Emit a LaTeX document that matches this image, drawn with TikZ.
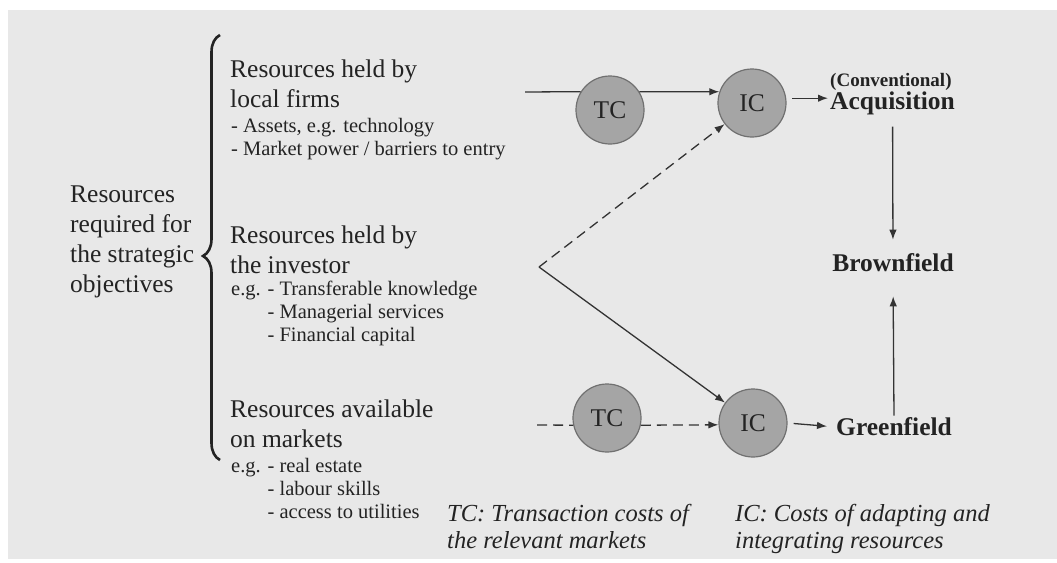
\documentclass[tikz,border=0pt]{standalone}
\usepackage{fontspec}
\setmainfont{Liberation Serif}
\usepackage{xcolor}
\usepackage{tikz}
\usetikzlibrary{arrows.meta,positioning,decorations.pathreplacing}
\definecolor{paper}{HTML}{E8E8E8}
\definecolor{ink}{HTML}{232323}
\definecolor{stroke}{HTML}{333333}
\definecolor{disc}{HTML}{A5A5A5}
\definecolor{rim}{HTML}{707070}
\newcommand{\bigsz}{\fontsize{25.5}{30}\selectfont}
\newcommand{\smallsz}{\fontsize{20.5}{23}\selectfont}
\newcommand{\ind}{\phantom{e.g. }}
\tikzset{
  base/.style={draw=stroke, line width=1.3pt},
  arr/.style={base, -{Latex[length=10pt,width=7.5pt]}},
  dsh/.style={dash pattern=on 10pt off 6pt},
  cost/.style={circle, draw=rim, line width=1.2pt, fill=disc, minimum size=68pt, inner sep=0pt, text=ink, font=\bigsz},
  head/.style={text=ink, font=\bigsz, align=left, inner sep=0pt, anchor=north west},
  list/.style={text=ink, font=\smallsz, align=left, inner sep=0pt, anchor=north west},
  mode/.style={text=ink, font=\bigsz\bfseries, inner sep=0pt},
  note/.style={text=ink, font=\fontsize{24.5}{27}\selectfont\itshape, align=left, inner sep=0pt, anchor=north west},
}

\begin{document}
\begin{tikzpicture}[x=1pt, y=-1pt]
\useasboundingbox (0,0) rectangle (1057,562);
\fill[white] (0,0) rectangle (1057,562);
\fill[paper] (8,10) rectangle (1057,559);

% resources column
\node[head] (req) at (70,186) {Resources\\required for\\the strategic\\objectives};
\draw[draw=ink, line width=2.6pt, decorate, decoration={brace, amplitude=17pt, aspect=0.48}] (220,460) -- (220,35);

\node[head] (local) at (230,60) {Resources held by\\local firms};
\node[list] (locallist) at (231,118) {- Assets, e.g. technology\\- Market power / barriers to entry};
\node[head] (inv) at (230,226) {Resources held by\\the investor};
\node[list] (invlist) at (231,281) {e.g. - Transferable knowledge\\\ind- Managerial services\\\ind- Financial capital};
\node[head] (mkt) at (230,400) {Resources available\\on markets};
\node[list] (mktlist) at (231,458) {e.g. - real estate\\\ind- labour skills\\\ind- access to utilities};

% cost circles
\node[cost] (tc1) at (610,110) {TC};
\node[cost] (ic1) at (752,103) {IC};
\node[cost] (tc2) at (607,418) {TC};
\node[cost] (ic2) at (753,423) {IC};

% entry modes
\node[mode, anchor=base west] (acq) at (830,109) {Acquisition};
\node[mode, font=\fontsize{19}{22}\selectfont\bfseries, anchor=south west] (conv) at (acq.north west) {(Conventional)};
\node[mode] (brown) at (893,263) {Brownfield};
\node[mode] (green) at (894,427) {Greenfield};

\coordinate (in1) at (525,92);
\coordinate (in2) at (537,425);
\coordinate (apex) at (539,267);

\draw[base] (in1) -- (tc1.148);
\draw[arr] (tc1.32) -- (ic1.161);
\draw[base, dsh] (in2) -- (tc2.192);
\draw[arr, dsh] (tc2.348) -- (ic2.183);
\draw[arr, dsh] (apex) -- (ic1);
\draw[arr] (apex) -- (ic2);
\draw[arr, shorten <=6pt, shorten >=2pt] (ic1.8) -- (ic1.8 -| acq.west);
\draw[arr, shorten <=6pt, shorten >=9pt] (ic2.east) -- (green.west);
\draw[arr, shorten <=12pt, shorten >=14pt] (acq.south) -- (brown.north);
\draw[arr, shorten <=2pt, shorten >=24pt] (green.north) -- (brown.south);

% legend
\node[note] (tcnote) at (447,504) {TC: Transaction costs of\\the relevant markets};
\node[note] (icnote) at (735,504) {IC: Costs of adapting and\\integrating resources};
\end{tikzpicture}
\end{document}
